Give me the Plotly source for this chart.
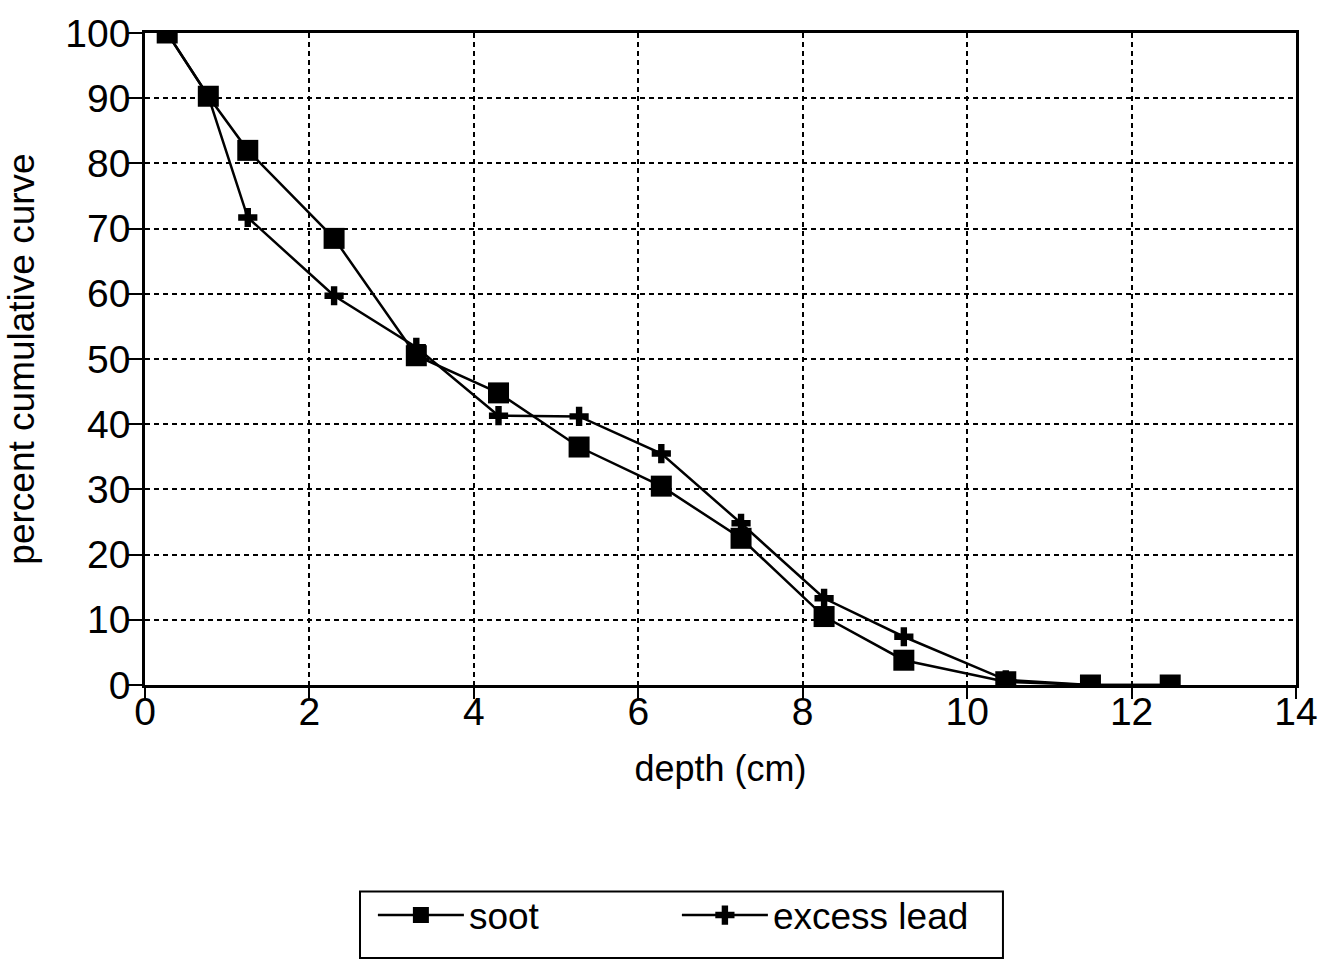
import plotly.graph_objects as go

depth = [0.27, 0.77, 1.25, 2.3, 3.3, 4.3, 5.28, 6.28, 7.25, 8.26, 9.23, 10.47, 11.5, 12.47]
soot = [100, 90.3, 82, 68.5, 50.5, 44.8, 36.5, 30.5, 22.5, 10.5, 3.8, 0.5, 0, 0]
excess_lead = [100, 90.3, 71.7, 59.7, 51.8, 41.3, 41.2, 35.5, 24.8, 13.3, 7.4, 0.8, 0, 0]

x_ticks = [0, 2, 4, 6, 8, 10, 12, 14]
y_ticks = [0, 10, 20, 30, 40, 50, 60, 70, 80, 90, 100]

FONT = "Liberation Sans, Arial, Helvetica, sans-serif"

fig = go.Figure()
fig.add_trace(go.Scatter(
    x=depth, y=soot, name="soot", mode="lines+markers",
    line=dict(color="black", width=2.5),
    marker=dict(symbol="square", size=21, color="black"),
))
fig.add_trace(go.Scatter(
    x=depth, y=excess_lead, name="excess lead", mode="lines+markers",
    line=dict(color="black", width=2.5),
    marker=dict(symbol="cross", size=16, color="black"),
))

axis_common = dict(
    showline=True, linecolor="black", linewidth=2.5, mirror=True,
    showgrid=True, gridcolor="black", gridwidth=2, griddash="5px,4px",
    ticks="outside", tickwidth=2, tickcolor="black",
    zeroline=False,
    tickfont=dict(family=FONT, size=39, color="black"),
)

fig.update_xaxes(range=[0, 14], tickvals=x_ticks, ticktext=[str(v) for v in x_ticks],
                 ticklen=11, ticklabelstandoff=-21,
                 title=dict(text="depth (cm)", font=dict(family=FONT, size=36, color="black"), standoff=25),
                 **axis_common)
fig.update_yaxes(range=[0, 100], tickvals=y_ticks, ticktext=[str(v) for v in y_ticks],
                 ticklen=15, ticklabelstandoff=-11,
                 title=dict(text="percent cumulative curve", font=dict(family=FONT, size=37, color="black"), standoff=20),
                 **axis_common)

# legend frame
fig.add_shape(type="rect", xref="paper", yref="paper",
              x0=0.1868, x1=0.7454, y0=-0.4186, y1=-0.3166,
              line=dict(color="black", width=2), fillcolor="rgba(0,0,0,0)")

fig.update_layout(
    width=1335, height=963,
    margin=dict(l=145, r=39, t=28, b=278),
    plot_bgcolor="white", paper_bgcolor="white",
    font=dict(family=FONT, color="black"),
    legend=dict(
        orientation="h", x=0.1980, xanchor="left", y=-0.306, yanchor="top",
        borderwidth=0, bgcolor="rgba(0,0,0,0)",
        font=dict(family=FONT, size=37, color="black"),
        entrywidth=203, entrywidthmode="pixels", itemwidth=86,
    ),
    showlegend=True,
)

fig.write_html("out.html")
